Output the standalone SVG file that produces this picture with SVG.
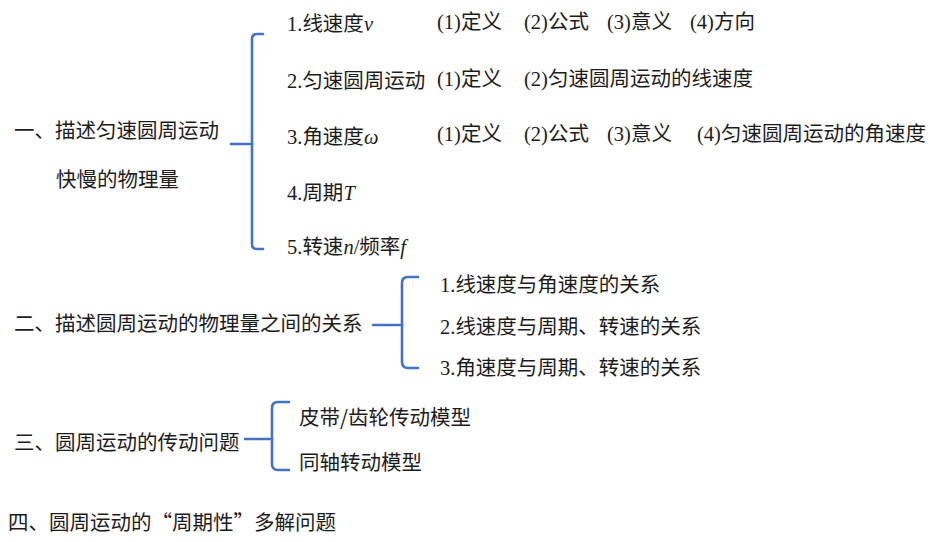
<svg xmlns="http://www.w3.org/2000/svg" width="938" height="542" viewBox="0 0 938 542">
<style>
text{font-family:"Liberation Serif","Noto Sans CJK SC",serif;font-size:20.5px;fill:#1c1c1c}
.h{font-family:"Noto Sans CJK SC","Noto Sans",sans-serif}
.i{font-style:italic;font-family:"Liberation Serif",serif}
.c{font-family:"Noto Sans CJK SC",sans-serif}
.br{fill:none;stroke:#4472C4;stroke-width:2.6;stroke-linecap:round;stroke-linejoin:round}
</style>
<rect width="938" height="542" fill="#ffffff"/>
<g id="connectors">
<path class="br" d="M263,34 H257 Q252,34 252,39 V244 Q252,249 257,249 H263"/>
<path class="br" d="M231,144 H252"/>
<path class="br" d="M418,277 H408 Q402,277 402,283 V362 Q402,368 408,368 H418"/>
<path class="br" d="M373,325 H402"/>
<path class="br" d="M289,402 H278 Q272,402 272,408 V464 Q272,470 278,470 H289"/>
<path class="br" d="M245,439 H272"/>
</g>
<g id="n1">
<text class="h" x="14" y="138">一、描述匀速圆周运动</text>
<text class="h" x="56" y="187">快慢的物理量</text>
</g>
<g id="n1-1"><text x="287" y="31">1.<tspan class="c">线速度</tspan><tspan class="i">v</tspan></text></g>
<g id="n1-1-items">
<text x="437" y="29">(1)<tspan class="c">定义</tspan></text>
<text x="524" y="29">(2)<tspan class="c">公式</tspan></text>
<text x="607" y="29">(3)<tspan class="c">意义</tspan></text>
<text x="690" y="29">(4)<tspan class="c">方向</tspan></text>
</g>
<g id="n1-2"><text x="287" y="88">2.<tspan class="c">匀速圆周运动</tspan></text></g>
<g id="n1-2-items">
<text x="437" y="86">(1)<tspan class="c">定义</tspan></text>
<text x="524" y="86">(2)<tspan class="c">匀速圆周运动的线速度</tspan></text>
</g>
<g id="n1-3"><text x="287" y="144">3.<tspan class="c">角速度</tspan><tspan class="i">ω</tspan></text></g>
<g id="n1-3-items">
<text x="437" y="141">(1)<tspan class="c">定义</tspan></text>
<text x="524" y="141">(2)<tspan class="c">公式</tspan></text>
<text x="607" y="141">(3)<tspan class="c">意义</tspan></text>
<text x="697" y="141">(4)<tspan class="c">匀速圆周运动的角速度</tspan></text>
</g>
<g id="n1-4"><text x="287" y="200">4.<tspan class="c">周期</tspan><tspan class="i">T</tspan></text></g>
<g id="n1-5"><text x="287" y="254">5.<tspan class="c">转速</tspan><tspan class="i">n</tspan>/<tspan class="c">频率</tspan><tspan class="i">f</tspan></text></g>
<g id="n2"><text class="h" x="14" y="331">二、描述圆周运动的物理量之间的关系</text></g>
<g id="n2-1"><text x="440" y="292">1.<tspan class="c">线速度与角速度的关系</tspan></text></g>
<g id="n2-2"><text x="440" y="334">2.<tspan class="c">线速度与周期、转速的关系</tspan></text></g>
<g id="n2-3"><text x="440" y="375">3.<tspan class="c">角速度与周期、转速的关系</tspan></text></g>
<g id="n3"><text class="h" x="14" y="450">三、圆周运动的传动问题</text></g>
<g id="n3-1"><text class="h" x="299" y="425">皮带/齿轮传动模型</text></g>
<g id="n3-2"><text class="h" x="299" y="470">同轴转动模型</text></g>
<g id="n4"><text class="h" x="8" y="530">四、圆周运动的“周期性”多解问题</text></g>
</svg>
